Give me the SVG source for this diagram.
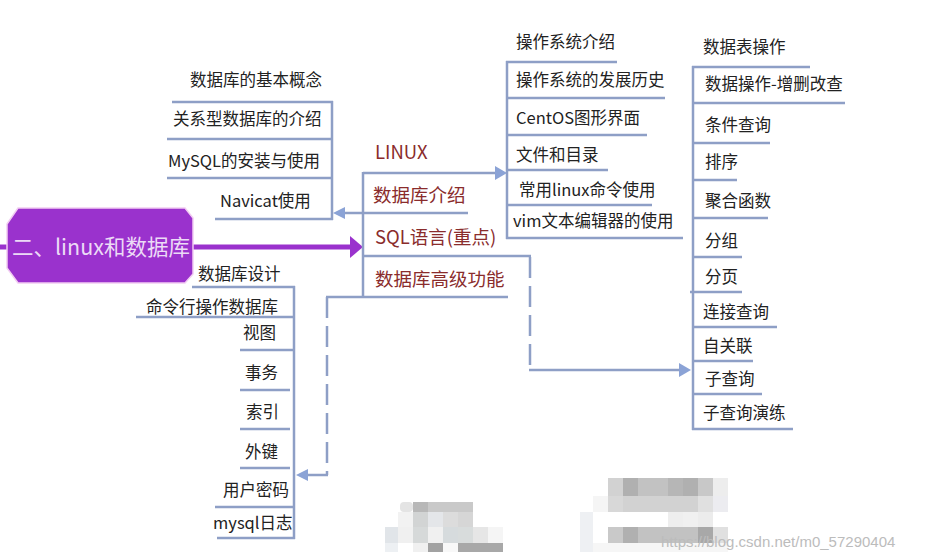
<svg xmlns="http://www.w3.org/2000/svg" width="937" height="552" viewBox="0 0 937 552">
<defs>
<style>
.t{font-family:"Noto Sans CJK SC","Noto Sans",sans-serif;font-size:16.5px;fill:#222;}
.m{font-family:"Noto Sans CJK SC","Noto Sans",sans-serif;font-size:18.5px;fill:#8A2C2C;}
.ln{stroke:#8E9FC6;stroke-width:2.5;fill:none;}
.dash{stroke:#8E9FC6;stroke-width:2.5;fill:none;stroke-dasharray:21 8;}
.ah{fill:#8BA3D6;}
</style>
</defs>
<rect width="937" height="552" fill="#ffffff"/>

<g id="connectors">
  <line x1="0" y1="247" x2="8" y2="247" stroke="#9A32CD" stroke-width="5"/>
  <line x1="193" y1="247" x2="352" y2="247" stroke="#9A32CD" stroke-width="5"/>
  <polygon points="350,236 363,247 350,258" fill="#9A32CD"/>
  <line class="ln" x1="363" y1="172" x2="363" y2="298"/>
  <line class="ln" x1="363" y1="173" x2="497" y2="173"/>
  <polygon class="ah" points="495,166 507,173 495,180"/>
  <line class="ln" x1="343" y1="213" x2="363" y2="213"/>
  <polygon class="ah" points="345,207 333,213 345,219"/>
  <line class="dash" x1="530" y1="257" x2="530" y2="370"/>
  <line class="ln" x1="529" y1="370" x2="681" y2="370"/>
  <polygon class="ah" points="679,363 691,370 679,377"/>
  <line class="dash" x1="327" y1="297" x2="327" y2="475"/>
  <line class="ln" x1="328" y1="475" x2="305" y2="475"/>
  <polygon class="ah" points="308,469 296,475 308,481"/>
  <line class="ln" x1="332" y1="101" x2="332" y2="220"/>
  <line class="ln" x1="507" y1="61" x2="507" y2="239"/>
  <line class="ln" x1="693" y1="66" x2="693" y2="430"/>
  <line class="ln" x1="294" y1="286" x2="294" y2="539"/>
</g>

<g id="center">
  <polygon points="18,208 185,208 193,218 193,274 185,283 18,283 7,268 7,224" fill="#9A32CD" stroke="#F2CDF2" stroke-width="1.5"/>
  <text x="12" y="255" style="font-family:'Noto Sans CJK SC','Noto Sans',sans-serif;font-size:21.5px;fill:#ECDAF6;">二、linux和数据库</text>
</g>

<g id="branch-linux"><text class="m" x="375" y="159">LINUX</text></g>
<g id="branch-intro"><text class="m" x="373" y="202">数据库介绍</text><line class="ln" x1="363" y1="213" x2="468" y2="213"/></g>
<g id="branch-sql"><text class="m" x="375" y="244">SQL语言(重点)</text><line class="ln" x1="363" y1="256" x2="531" y2="256"/></g>
<g id="branch-adv"><text class="m" x="375" y="286">数据库高级功能</text><line class="ln" x1="326" y1="297" x2="508" y2="297"/></g>

<g id="tl1"><text class="t" x="190" y="86">数据库的基本概念</text><line class="ln" x1="172" y1="102" x2="333" y2="102"/></g>
<g id="tl2"><text class="t" x="173" y="125">关系型数据库的介绍</text><line class="ln" x1="167" y1="139" x2="333" y2="139"/></g>
<g id="tl3"><text class="t" x="168" y="167">MySQL的安装与使用</text><line class="ln" x1="167" y1="178" x2="331" y2="178"/></g>
<g id="tl4"><text class="t" x="220" y="207">Navicat使用</text><line class="ln" x1="215" y1="219" x2="333" y2="219"/></g>

<g id="mc1"><text class="t" x="516" y="48">操作系统介绍</text><line class="ln" x1="506" y1="62" x2="617" y2="62"/></g>
<g id="mc2"><text class="t" x="516" y="86">操作系统的发展历史</text><line class="ln" x1="506" y1="98" x2="665" y2="98"/></g>
<g id="mc3"><text class="t" x="516" y="124">CentOS图形界面</text><line class="ln" x1="506" y1="135" x2="647" y2="135"/></g>
<g id="mc4"><text class="t" x="516" y="161">文件和目录</text><line class="ln" x1="506" y1="170" x2="608" y2="170"/></g>
<g id="mc5"><text class="t" x="519" y="196">常用linux命令使用</text><line class="ln" x1="506" y1="205" x2="652" y2="205"/></g>
<g id="mc6"><text class="t" x="513" y="227">vim文本编辑器的使用</text><line class="ln" x1="506" y1="238" x2="683" y2="238"/></g>

<g id="rc1"><text class="t" x="703" y="53">数据表操作</text><line class="ln" x1="692" y1="67" x2="810" y2="67"/></g>
<g id="rc2"><text class="t" x="705" y="90">数据操作-增删改查</text><line class="ln" x1="692" y1="103" x2="845" y2="103"/></g>
<g id="rc3"><text class="t" x="705" y="131">条件查询</text><line class="ln" x1="692" y1="143" x2="770" y2="143"/></g>
<g id="rc4"><text class="t" x="705" y="168">排序</text><line class="ln" x1="692" y1="180" x2="737" y2="180"/></g>
<g id="rc5"><text class="t" x="705" y="207">聚合函数</text><line class="ln" x1="692" y1="218" x2="768" y2="218"/></g>
<g id="rc6"><text class="t" x="705" y="247">分组</text><line class="ln" x1="692" y1="257" x2="742" y2="257"/></g>
<g id="rc7"><text class="t" x="705" y="283">分页</text><line class="ln" x1="690" y1="292" x2="742" y2="292"/></g>
<g id="rc8"><text class="t" x="703" y="318">连接查询</text><line class="ln" x1="692" y1="327" x2="777" y2="327"/></g>
<g id="rc9"><text class="t" x="703" y="352">自关联</text><line class="ln" x1="692" y1="361" x2="753" y2="361"/></g>
<g id="rc10"><text class="t" x="705" y="385">子查询</text><line class="ln" x1="692" y1="394" x2="762" y2="394"/></g>
<g id="rc11"><text class="t" x="703" y="419">子查询演练</text><line class="ln" x1="692" y1="429" x2="793" y2="429"/></g>

<g id="bl1"><text class="t" x="198" y="280">数据库设计</text><line class="ln" x1="192" y1="287" x2="295" y2="287"/></g>
<g id="bl2"><text class="t" x="146" y="313">命令行操作数据库</text><line class="ln" x1="136" y1="317" x2="295" y2="317"/></g>
<g id="bl3"><text class="t" x="243" y="339">视图</text><line class="ln" x1="240" y1="350" x2="295" y2="350"/></g>
<g id="bl4"><text class="t" x="245" y="379">事务</text><line class="ln" x1="240" y1="390" x2="290" y2="390"/></g>
<g id="bl5"><text class="t" x="246" y="418">索引</text><line class="ln" x1="240" y1="429" x2="290" y2="429"/></g>
<g id="bl6"><text class="t" x="245" y="458">外键</text><line class="ln" x1="240" y1="468" x2="290" y2="468"/></g>
<g id="bl7"><text class="t" x="223" y="496">用户密码</text><line class="ln" x1="215" y1="507" x2="295" y2="507"/></g>
<g id="bl8"><text class="t" x="213" y="529">mysql日志</text><line class="ln" x1="217" y1="538" x2="295" y2="538"/></g>

<g id="mosaic1">
  <rect x="400" y="502" width="13" height="10" rx="4" fill="#e4e4e4"/>
  <rect x="413" y="502" width="15" height="10" fill="#b8b8b8"/>
  <rect x="428" y="502" width="45" height="10" fill="#c9c9c9"/>
  <rect x="398" y="512" width="15" height="15" fill="#f2f2f2"/>
  <rect x="413" y="512" width="15" height="15" fill="#d2d4d4"/>
  <rect x="428" y="512" width="15" height="15" fill="#e4e6e9"/>
  <rect x="443" y="512" width="15" height="15" fill="#dcdcdc"/>
  <rect x="458" y="512" width="15" height="15" fill="#d6d6d6"/>
  <rect x="385" y="527" width="13" height="16" fill="#e1e5e9"/>
  <rect x="398" y="527" width="15" height="16" fill="#f0f0f0"/>
  <rect x="413" y="527" width="15" height="16" fill="#d6d9d9"/>
  <rect x="428" y="527" width="15" height="16" fill="#f0f0f0"/>
  <rect x="443" y="527" width="15" height="16" fill="#d6dbdd"/>
  <rect x="458" y="527" width="15" height="16" fill="#d8dcdc"/>
  <rect x="473" y="527" width="15" height="16" fill="#e6e6e6"/>
  <rect x="488" y="527" width="15" height="16" fill="#f5f5f5"/>
  <rect x="385" y="543" width="13" height="9" fill="#edf0f3"/>
  <rect x="413" y="543" width="15" height="9" fill="#f0f0f0"/>
  <rect x="428" y="543" width="15" height="9" fill="#a2a2a2"/>
  <rect x="443" y="543" width="15" height="9" fill="#f8f8f8"/>
  <rect x="458" y="543" width="45" height="9" fill="#a8a8a8"/>
</g>
<g id="mosaic2">
  <rect x="608" y="478" width="15" height="18" fill="#d2d2d2"/>
  <rect x="623" y="478" width="15" height="18" fill="#b0b0b0"/>
  <rect x="638" y="478" width="30" height="18" fill="#c2c2c2"/>
  <rect x="668" y="478" width="15" height="18" fill="#b6b6b6"/>
  <rect x="683" y="478" width="15" height="18" fill="#b0b0b0"/>
  <rect x="698" y="478" width="15" height="18" fill="#c8c8c8"/>
  <rect x="713" y="478" width="15" height="18" fill="#ededed"/>
  <rect x="593" y="496" width="15" height="16" fill="#f5f5f5"/>
  <rect x="608" y="496" width="15" height="16" fill="#d8d8d8"/>
  <rect x="623" y="496" width="75" height="16" fill="#d2d2d2"/>
  <rect x="698" y="496" width="15" height="16" fill="#e0e0e0"/>
  <rect x="713" y="496" width="15" height="16" fill="#ececf0"/>
  <rect x="580" y="512" width="13" height="40" fill="#eef0f3"/>
  <rect x="668" y="512" width="15" height="15" fill="#eeeeee"/>
  <rect x="683" y="512" width="15" height="15" fill="#f0f0f0"/>
  <rect x="698" y="512" width="15" height="15" fill="#ececec"/>
  <rect x="608" y="527" width="15" height="16" fill="#c9c9c9"/>
  <rect x="623" y="527" width="15" height="16" fill="#b0b0b0"/>
  <rect x="638" y="527" width="60" height="16" fill="#c2c2c2"/>
  <rect x="698" y="527" width="15" height="16" fill="#a8a8a8"/>
  <rect x="713" y="527" width="15" height="16" fill="#e0e0e0"/>
  <rect x="593" y="543" width="135" height="9" fill="#f6f6f6"/>
</g>
<text x="661" y="547" style="font-family:'Liberation Sans',Arial,sans-serif;font-size:15px;fill:#bcbcbc;">https://blog.csdn.net/m0_57290404</text>
</svg>
